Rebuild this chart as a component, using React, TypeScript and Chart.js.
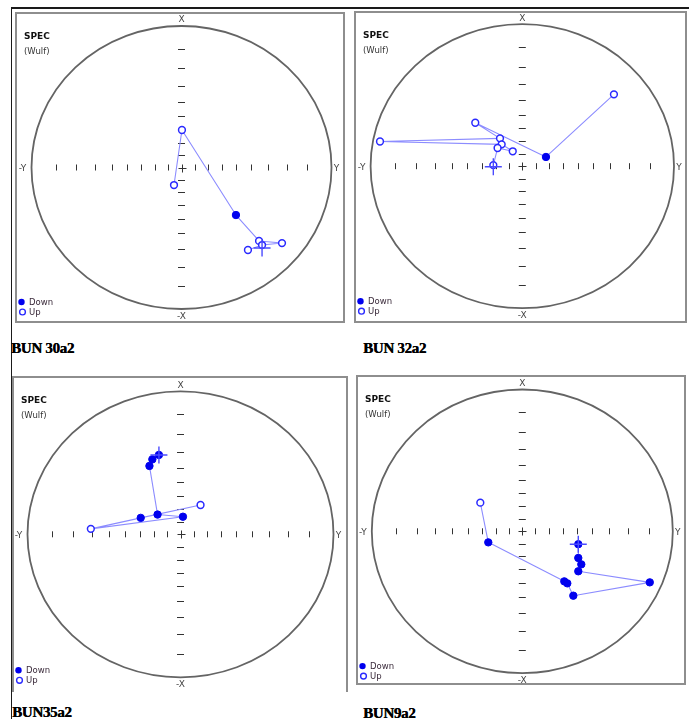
import React, { useEffect, useRef } from "react";
import { Chart, registerables } from "chart.js";

Chart.register(...registerables);

// Wulff net tick marks: inclination in degrees (every 10 degrees)
const tickInclinations = [10, 20, 30, 40, 50, 60, 70, 80];
const axisLabels = ["X", "-X", "Y", "-Y"];
const legendLabels = ["Down", "Up"];
const netTitle = ["SPEC", "(Wulf)"];

// Projected directions (east = Y axis, north = X axis, unit = net radius)
// BUN 30a2
const p1East = [-0.05, 0.003, 0.363, 0.517, 0.67, 0.537, 0.443];
const p1North = [-0.124, 0.265, -0.336, -0.519, -0.534, -0.548, -0.583];
const p1Down = [false, false, true, false, false, false, false];
const p1Mean = [0.537, -0.569];

// BUN 32a2
const p2East = [0.604, 0.156, -0.31, -0.147, -0.938, -0.136, -0.063, -0.163, -0.191];
const p2North = [0.506, 0.065, 0.306, 0.196, 0.174, 0.154, 0.105, 0.128, 0.008];
const p2Down = [false, true, false, false, false, false, false, false, false];
const p2Mean = [-0.191, -0.004];

// BUN35a2
const p3East = [0.131, -0.26, -0.586, 0.016, -0.15, -0.203, -0.184, -0.141];
const p3North = [0.205, 0.115, 0.038, 0.123, 0.138, 0.478, 0.524, 0.555];
const p3Down = [false, true, false, true, true, true, true, true];
const p3Mean = [-0.141, 0.555];

// BUN9a2
const p4East = [-0.279, -0.226, 0.279, 0.299, 0.339, 0.847, 0.372, 0.392, 0.372, 0.372];
const p4North = [0.202, -0.078, -0.353, -0.367, -0.454, -0.36, -0.282, -0.233, -0.188, -0.091];
const p4Down = [false, true, true, true, true, true, true, true, true, true];
const p4Mean = [0.372, -0.091];

const panelTitles = ["BUN 30a2", "BUN 32a2", "BUN35a2", "BUN9a2"];

type Layout = {
  frame: { l: number; t: number; w: number; h: number };
  circle: { cx: number; cy: number; rx: number; ry: number };
  title: { x: number; y: number };
  noBottom?: boolean;
};

const layouts: Layout[] = [
  { frame: { l: 15, t: 12, w: 330, h: 311 }, circle: { cx: 181.5, cy: 167.5, rx: 150, ry: 141.5 }, title: { x: 11, y: 348 } },
  { frame: { l: 354, t: 11, w: 333, h: 312 }, circle: { cx: 522.3, cy: 166.2, rx: 151.7, ry: 142 }, title: { x: 363, y: 348 } },
  { frame: { l: 12, t: 376, w: 336, h: 316 }, circle: { cx: 180.5, cy: 534.3, rx: 153, ry: 143 }, title: { x: 12, y: 712 }, noBottom: true },
  { frame: { l: 356, t: 375, w: 330, h: 310 }, circle: { cx: 522.3, cy: 531.3, rx: 150.5, ry: 141.8 }, title: { x: 363, y: 713 } },
];

const panelData = [
  { east: p1East, north: p1North, down: p1Down, mean: p1Mean },
  { east: p2East, north: p2North, down: p2Down, mean: p2Mean },
  { east: p3East, north: p3North, down: p3Down, mean: p3Mean },
  { east: p4East, north: p4North, down: p4Down, mean: p4Mean },
];

const BORDER = 2;

const netPlugin = {
  id: "net",
  beforeDatasetsDraw(chart: any) {
    const { ctx } = chart;
    const xs = chart.scales.x;
    const ys = chart.scales.y;
    const cx = xs.getPixelForValue(0);
    const cy = ys.getPixelForValue(0);
    const rx = xs.getPixelForValue(1) - cx;
    const ry = cy - ys.getPixelForValue(1);
    ctx.save();
    ctx.strokeStyle = "#646464";
    ctx.lineWidth = 1.8;
    ctx.beginPath();
    ctx.ellipse(cx, cy, rx, ry, 0, 0, Math.PI * 2);
    ctx.stroke();

    ctx.strokeStyle = "#333";
    ctx.lineWidth = 1;
    ctx.beginPath();
    for (const inc of tickInclinations) {
      const r = Math.tan(((90 - inc) / 2) * (Math.PI / 180));
      for (const s of [-1, 1]) {
        const px = Math.round(xs.getPixelForValue(s * r)) + 0.5;
        ctx.moveTo(px, cy - 3);
        ctx.lineTo(px, cy + 3);
        const py = Math.round(ys.getPixelForValue(s * r)) + 0.5;
        ctx.moveTo(cx - 3.5, py);
        ctx.lineTo(cx + 3.5, py);
      }
    }
    const ccx = Math.round(cx) + 0.5;
    const ccy = Math.round(cy) + 0.5;
    ctx.moveTo(ccx - 4, ccy);
    ctx.lineTo(ccx + 4, ccy);
    ctx.moveTo(ccx, ccy - 4);
    ctx.lineTo(ccx, ccy + 4);
    ctx.stroke();

    ctx.fillStyle = "#444";
    ctx.font = '9px "DejaVu Sans"';
    ctx.textAlign = "center";
    ctx.textBaseline = "middle";
    ctx.fillText(axisLabels[0], cx, cy - ry - 6);
    ctx.fillText(axisLabels[1], cx, cy + ry + 7.5);
    ctx.fillText(axisLabels[2], cx + rx + 5, cy + 1);
    ctx.fillText(axisLabels[3], cx - rx - 9, cy + 1);

    // SPEC (Wulf)
    ctx.textAlign = "left";
    ctx.fillStyle = "#111";
    ctx.font = 'bold 9px "DejaVu Sans"';
    ctx.fillText(netTitle[0], 7, 23);
    ctx.fillStyle = "#333";
    ctx.font = '8.5px "DejaVu Sans"';
    ctx.fillText(netTitle[1], 7, 38);

    // legend
    const lb = cy + ry;
    ctx.fillStyle = "#0000ee";
    ctx.beginPath();
    ctx.arc(4.5, lb - 7, 3.2, 0, Math.PI * 2);
    ctx.fill();
    ctx.strokeStyle = "#2a2aff";
    ctx.lineWidth = 1.4;
    ctx.fillStyle = "#fff";
    ctx.beginPath();
    ctx.arc(5.5, lb + 3, 2.9, 0, Math.PI * 2);
    ctx.fill();
    ctx.stroke();
    ctx.fillStyle = "#3a2a3a";
    ctx.font = '8.5px "DejaVu Sans"';
    ctx.fillText(legendLabels[0], 12, lb - 6.5);
    ctx.fillText(legendLabels[1], 12, lb + 3.5);
    ctx.restore();
  },
};

function Panel({ idx }: { idx: number }) {
  const ref = useRef<HTMLCanvasElement>(null);
  const lay = layouts[idx];
  const d = panelData[idx];
  const cw = lay.frame.w - BORDER * 2;
  const ch = lay.frame.h - BORDER * (lay.noBottom ? 1 : 2);
  useEffect(() => {
    if (!ref.current) return;
    const innerL = lay.frame.l + BORDER;
    const innerT = lay.frame.t + BORDER;
    const c = lay.circle;
    const padding = {
      left: c.cx - c.rx - innerL,
      right: innerL + cw - (c.cx + c.rx),
      top: c.cy - c.ry - innerT,
      bottom: innerT + ch - (c.cy + c.ry),
    };
    const pts = d.east.map((e, i) => ({ x: e, y: d.north[i] }));
    const downPts = pts.filter((_, i) => d.down[i]);
    const upPts = pts.filter((_, i) => !d.down[i]);
    const chart = new Chart(ref.current, {
      type: "scatter",
      data: {
        datasets: [
          {
            label: "mean",
            data: [{ x: d.mean[0], y: d.mean[1] }],
            pointStyle: "cross",
            pointRadius: 8.5,
            pointBorderColor: "#4a4aff",
            pointBorderWidth: 1.4,
            showLine: false,
            order: 0,
          } as any,
          {
            label: legendLabels[1],
            data: upPts,
            pointRadius: 3.4,
            pointBackgroundColor: "#ffffff",
            pointBorderColor: "#2a2aff",
            pointBorderWidth: 1.5,
            showLine: false,
            order: 1,
          },
          {
            label: legendLabels[0],
            data: downPts,
            pointRadius: 3.7,
            pointBackgroundColor: "#0000ee",
            pointBorderColor: "#0000ee",
            pointBorderWidth: 1,
            showLine: false,
            order: 2,
          },
          {
            label: "path",
            data: pts,
            showLine: true,
            borderColor: "#8c8cff",
            borderWidth: 1.1,
            pointRadius: 0,
            tension: 0,
            order: 3,
          },
        ],
      },
      options: {
        animation: false,
        responsive: false,
        maintainAspectRatio: false,
        layout: { padding },
        events: [],
        scales: {
          x: { type: "linear", min: -1, max: 1, display: false },
          y: { type: "linear", min: -1, max: 1, display: false },
        },
        plugins: {
          legend: { display: false },
          tooltip: { enabled: false },
          title: { display: false },
        },
        elements: { line: { borderJoinStyle: "round" } },
      },
      plugins: [netPlugin],
    } as any);
    return () => chart.destroy();
  }, [idx]);

  return (
    <>
      <div
        style={{
          position: "absolute",
          left: lay.frame.l,
          top: lay.frame.t,
          width: lay.frame.w,
          height: lay.frame.h,
          boxSizing: "border-box",
          border: `${BORDER}px solid #8e8e8e`,
          borderBottom: lay.noBottom ? "none" : `${BORDER}px solid #8e8e8e`,
          background: "#fff",
        }}
      >
        <canvas ref={ref} width={cw} height={ch} style={{ display: "block", width: cw, height: ch }} />
      </div>
      <div
        style={{
          position: "absolute",
          left: lay.title.x,
          top: lay.title.y - 8,
          lineHeight: "16px",
          font: 'bold 15px "Liberation Serif"',
          color: "#000",
          letterSpacing: "-0.3px",
          textShadow: "0.4px 0 0 #000",
          whiteSpace: "nowrap",
        }}
      >
        {panelTitles[idx]}
      </div>
    </>
  );
}

export default function App() {
  return (
    <div
      style={{
        position: "absolute",
        left: 0,
        top: 0,
        width: 689,
        height: 722,
        background: "#fff",
        overflow: "hidden",
      }}
    >
      <div style={{ position: "absolute", left: 11, top: 7, width: 678, height: 1.5, background: "#1a1a1a" }} />
      <div style={{ position: "absolute", left: 10.5, top: 7, width: 1.5, height: 712, background: "#1a1a1a" }} />
      {[0, 1, 2, 3].map((i) => (
        <Panel key={i} idx={i} />
      ))}
    </div>
  );
}
